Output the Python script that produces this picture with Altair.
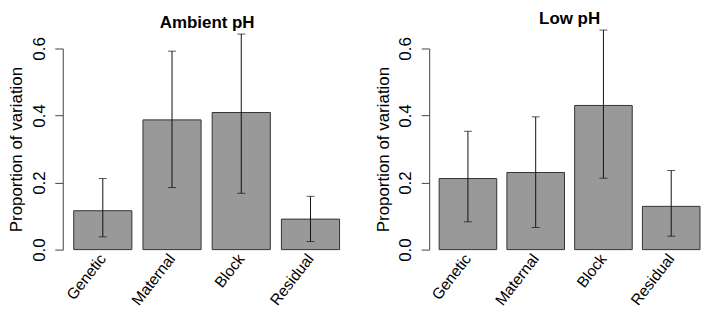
import altair as alt
import pandas as pd

categories = ["Genetic", "Maternal", "Block", "Residual"]

ambient_mean = [0.116, 0.387, 0.409, 0.091]
ambient_lo = [0.038, 0.185, 0.168, 0.024]
ambient_hi = [0.212, 0.592, 0.643, 0.159]

low_mean = [0.212, 0.230, 0.430, 0.129]
low_lo = [0.083, 0.066, 0.213, 0.040]
low_hi = [0.353, 0.396, 0.655, 0.236]

y_ticks = [0.0, 0.1, 0.2, 0.3, 0.4, 0.5, 0.6]

FONT = "Liberation Sans"


def panel(title, mean, lo, hi, width, rmin, rmax, pad_inner, dx):
    df = pd.DataFrame({"component": categories, "mean": mean, "lo": lo, "hi": hi})
    xscale = alt.Scale(paddingInner=pad_inner, paddingOuter=0, rangeMin=rmin, rangeMax=rmax)
    xaxis = alt.Axis(
        labelAngle=-52, labelAlign="right", labelBaseline="middle",
        labelPadding=6, domain=False, ticks=False, labelFontSize=15.5,
        labelColor="black", labelFont=FONT,
    )
    x = alt.X("component:N", sort=categories, title=None, scale=xscale, axis=xaxis)
    yscale = alt.Scale(domain=[0, 0.6], nice=False, zero=True)
    yaxis = alt.Axis(
        values=y_ticks,
        labelExpr="round(datum.value*10) % 2 == 0 ? format(datum.value, '.1f') : ''",
        tickSize=8, tickColor="#444444", domainColor="#444444",
        labelAngle=-90, labelAlign="center", labelBaseline="alphabetic",
        labelPadding=10.5, labelFontSize=17, labelColor="black", labelFont=FONT,
        grid=False, minExtent=33, maxExtent=33, titlePadding=4,
        titleFontSize=17, titleFontWeight="normal", titleColor="black", titleFont=FONT,
    )
    ytitle = "Proportion of variation"
    base = alt.Chart(df)
    bars = base.mark_bar(color="#999999", stroke="#333333", strokeWidth=1).encode(
        x=x, y=alt.Y("mean:Q", title=ytitle, scale=yscale, axis=yaxis)
    )
    rules = base.mark_rule(color="#111111", strokeWidth=1).encode(
        x=alt.X("component:N", sort=categories, title=None),
        y=alt.Y("lo:Q", title=ytitle), y2="hi:Q",
    )
    lo_ticks = base.mark_tick(color="#111111", size=8, thickness=1).encode(
        x=alt.X("component:N", sort=categories, title=None),
        y=alt.Y("lo:Q", title=ytitle),
    )
    hi_ticks = base.mark_tick(color="#111111", size=8, thickness=1).encode(
        x=alt.X("component:N", sort=categories, title=None),
        y=alt.Y("hi:Q", title=ytitle),
    )
    return alt.layer(bars, rules, lo_ticks, hi_ticks).properties(
        width=width, height=202,
        title=alt.TitleParams(
            text=title, fontSize=17, fontWeight="bold", font=FONT, color="black",
            anchor="middle", frame="group", offset=2, dx=dx,
        ),
    )


left = panel("Ambient pH", ambient_mean, ambient_lo, ambient_hi, 290, 11, 278, 0.16, 0)
right = panel("Low pH", low_mean, low_lo, low_hi, 272, 10, 272, 0.15, 5)

chart = (
    alt.hconcat(left, right, spacing=23)
    .properties(padding=0)
    .configure_view(stroke=None)
)

chart.save("out.html", embed_options={"renderer": "svg", "actions": False})
